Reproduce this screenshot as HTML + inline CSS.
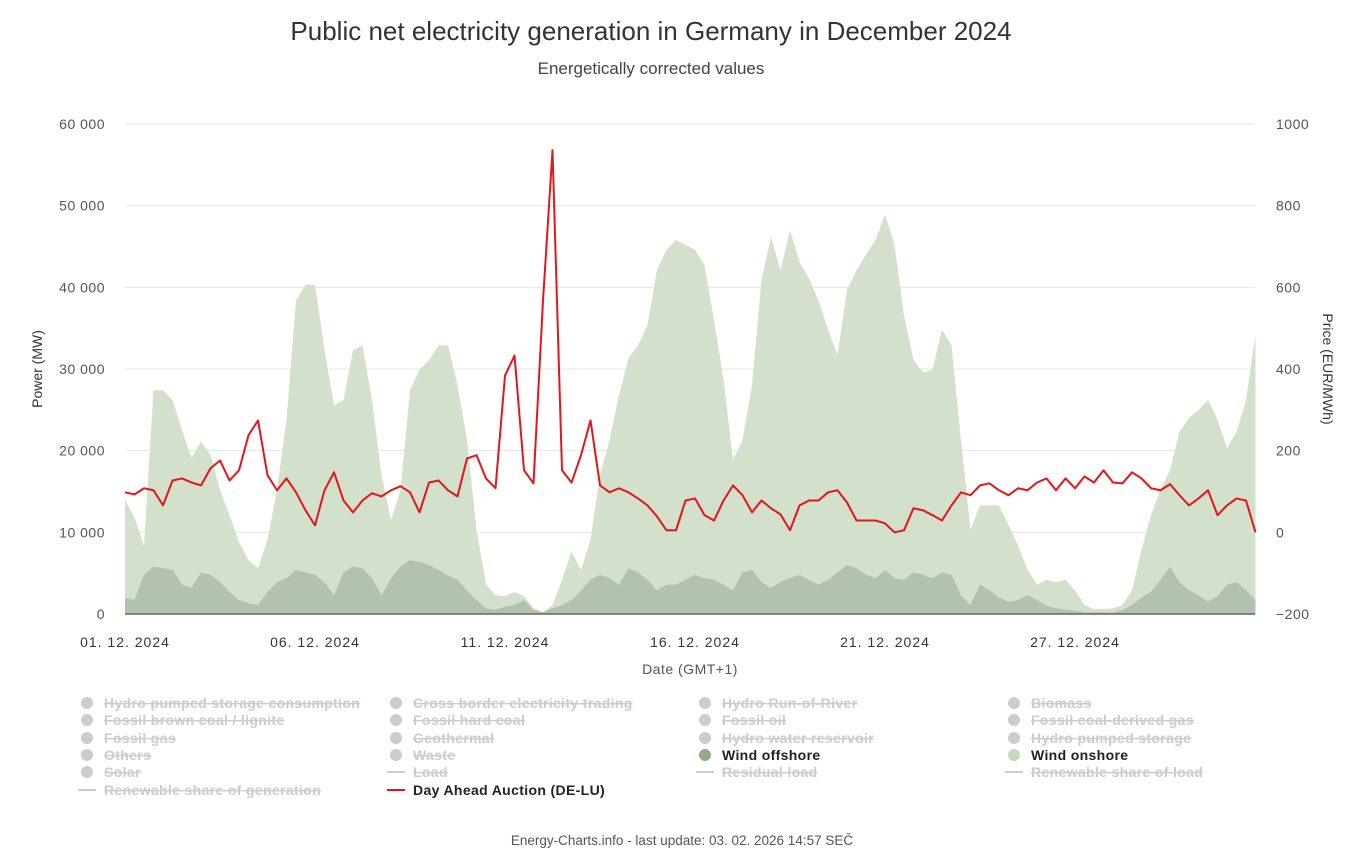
<!DOCTYPE html>
<html><head><meta charset="utf-8">
<style>
body{margin:0;background:#fff;font-family:"Liberation Sans",sans-serif;}
#wrap{position:relative;width:1355px;height:857px;overflow:hidden;}
svg text{font-family:"Liberation Sans",sans-serif;}
</style></head>
<body>
<div id="wrap">
<svg id="chart" width="1355" height="857"></svg>
</div>
<script>
// ---- data (6-hour steps from 01.12.2024 00:00) ----
const windOffshore = [2.0,1.7,4.8,5.8,5.6,5.4,3.6,3.2,5.1,4.8,3.9,2.7,1.7,1.3,1.1,2.7,3.9,4.4,5.4,5.1,4.8,3.9,2.3,5.1,5.8,5.6,4.4,2.3,4.4,5.8,6.6,6.4,6.0,5.4,4.7,4.2,2.9,1.7,0.7,0.5,0.9,1.1,1.7,0.5,0.2,0.7,1.1,1.7,2.9,4.2,4.8,4.4,3.6,5.6,5.1,4.2,2.9,3.6,3.6,4.2,4.8,4.4,4.2,3.6,2.9,5.1,5.4,3.9,3.2,3.9,4.4,4.8,4.2,3.6,4.2,5.1,6.0,5.6,4.8,4.4,5.4,4.4,4.2,5.1,4.8,4.4,5.1,4.8,2.3,1.1,3.6,2.9,2.0,1.5,1.7,2.3,1.7,1.0,0.7,0.5,0.4,0.2,0.2,0.2,0.2,0.5,1.1,2.0,2.7,4.2,5.8,3.9,2.9,2.3,1.5,2.2,3.6,3.9,2.9,1.7];
const windOnshore = [12.0,10.1,3.6,21.6,21.8,20.8,18.9,15.9,16.0,14.7,11.3,9.4,7.1,5.3,4.5,6.4,11.3,19.4,33.0,35.2,35.5,28.4,23.3,21.1,26.5,27.3,21.8,14.7,7.1,9.4,20.8,23.5,25.1,27.5,28.2,23.8,18.4,8.6,2.9,1.8,1.3,1.6,0.5,0.2,0.0,0.4,3.1,5.9,2.5,4.9,12.2,16.9,23.2,25.7,27.8,31.2,39.2,41.0,42.2,41.0,39.8,38.3,31.8,25.1,16.0,16.2,22.6,37.0,43.0,38.2,42.6,38.3,36.9,34.8,30.6,26.6,33.7,36.5,39.2,41.4,43.5,40.8,32.4,26.0,24.8,25.5,29.7,28.1,19.0,9.2,9.7,10.4,11.3,9.4,6.7,3.1,1.9,3.2,3.2,3.7,2.5,0.9,0.4,0.4,0.5,0.6,1.8,5.8,9.4,11.0,11.8,18.4,21.1,22.7,24.7,21.6,16.7,18.4,23.3,32.5];
const dayAheadPrice = [98,93,108,103,66,127,132,122,115,157,176,127,152,238,274,140,103,132,98,54,17,103,147,78,49,78,96,88,103,113,98,49,122,127,103,88,181,189,132,108,384,433,152,120,568,936,152,122,189,274,115,98,108,98,83,66,39,5,5,78,83,42,29,78,115,91,49,78,59,44,5,66,78,78,98,103,73,29,29,29,22,0,5,59,54,42,29,66,98,91,115,120,103,91,108,103,122,132,103,132,108,137,122,152,122,120,147,132,108,103,118,91,66,83,103,42,66,83,78,0];
const xTickLabels = ["01. 12. 2024","06. 12. 2024","11. 12. 2024","16. 12. 2024","21. 12. 2024","27. 12. 2024"];
const xTickDays = [0,5,10,15,20,25];
const yLeftTicks = [0,10000,20000,30000,40000,50000,60000];
const yRightTicks = [-200,0,200,400,600,800,1000];

const NS="http://www.w3.org/2000/svg";
const svg=document.getElementById('chart');
const PL=125,PR=1255,PT=124,PB=614;
const pxPerDay=38;
function xDay(d){return PL+d*pxPerDay;}
function xIdx(i){return xDay(i*0.25);}
function yMW(v){return PB-(v/60000)*(PB-PT);}
function yEUR(v){return PB-((v+200)/1200)*(PB-PT);}
function mk(tag,attrs,parent){const e=document.createElementNS(NS,tag);for(const k in attrs)e.setAttribute(k,attrs[k]);(parent||svg).appendChild(e);return e;}
function txt(s,attrs){const t=mk('text',attrs);t.textContent=s;return t;}

let t=txt('Public net electricity generation in Germany in December 2024',{x:651,y:40,'text-anchor':'middle','font-size':'26',fill:'#333'});


t=txt('Energetically corrected values',{x:651,y:74,'text-anchor':'middle','font-size':'17',fill:'#444'});



yLeftTicks.forEach(v=>{
  const y=yMW(v);
  if(v>0){const g=mk('line',{x1:PL,x2:PR,y1:y,y2:y,stroke:'#e6e6e6','stroke-width':1});
  
  }
  const l=txt(v===0?'0':(v/1000)+' 000',{x:105,y:y+5,'text-anchor':'end','font-size':'14','letter-spacing':'0.5',fill:'#555'});
  
  
});
yRightTicks.forEach(v=>{
  const l=txt(v<0?'\u2212'+(-v):String(v),{x:1276,y:yEUR(v)+5,'text-anchor':'start','font-size':'14','letter-spacing':'0.5',fill:'#555'});
  
  
});

const n=windOffshore.length;
let dOn='M'+xIdx(0)+','+PB, dOff='M'+xIdx(0)+','+PB;
for(let i=0;i<n;i++){
  dOff+=' L'+xIdx(i)+','+yMW(windOffshore[i]*1000);
  dOn+=' L'+xIdx(i)+','+yMW((windOffshore[i]+windOnshore[i])*1000);
}
dOff+=' L'+xIdx(n-1)+','+PB+' Z';dOn+=' L'+xIdx(n-1)+','+PB+' Z';
let a=mk('path',{d:dOn,fill:'#d3e0cc'});


a=mk('path',{d:dOff,fill:'#b3c2ad'});



let dP='';
dayAheadPrice.forEach((v,i)=>{dP+=(i?' L':'M')+xIdx(i)+','+yEUR(v);});
let pl=mk('path',{d:dP,fill:'none',stroke:'#e3161b','stroke-width':2,'stroke-linejoin':'round'});



let ax=mk('line',{x1:PL,x2:PR,y1:PB,y2:PB,stroke:'#666','stroke-width':1.5});


xTickLabels.forEach((s,i)=>{
  const l=txt(s,{x:xDay(xTickDays[i]),y:647,'text-anchor':'middle','font-size':'14','letter-spacing':'1',fill:'#333'});
  
  
});
t=txt('Date (GMT+1)',{x:690,y:674,'text-anchor':'middle','font-size':'14','letter-spacing':'0.5',fill:'#555'});


t=txt('Power (MW)',{x:0,y:0,'text-anchor':'middle','font-size':'14',fill:'#333',transform:'translate(42,369) rotate(-90)'});


t=txt('Price (EUR/MWh)',{x:0,y:0,'text-anchor':'middle','font-size':'14',fill:'#333',transform:'translate(1323,369) rotate(90)'});



const legendItems=[
 ['Hydro pumped storage consumption',0,0,'dot',0],['Cross border electricity trading',1,0,'dot',0],['Hydro Run-of-River',2,0,'dot',0],['Biomass',3,0,'dot',0],
 ['Fossil brown coal / lignite',0,1,'dot',0],['Fossil hard coal',1,1,'dot',0],['Fossil oil',2,1,'dot',0],['Fossil coal-derived gas',3,1,'dot',0],
 ['Fossil gas',0,2,'dot',0],['Geothermal',1,2,'dot',0],['Hydro water reservoir',2,2,'dot',0],['Hydro pumped storage',3,2,'dot',0],
 ['Others',0,3,'dot',0],['Waste',1,3,'dot',0],['Wind offshore',2,3,'dot','#94a98a'],['Wind onshore',3,3,'dot','#c5d8b9'],
 ['Solar',0,4,'dot',0],['Load',1,4,'line',0],['Residual load',2,4,'line',0],['Renewable share of load',3,4,'line',0],
 ['Renewable share of generation',0,5,'line',0],['Day Ahead Auction (DE-LU)',1,5,'line','#e3161b']
];
const colX=[87,396,705,1014], rowY=[703,720,738,755,772,790];
legendItems.forEach(it=>{
  const [label,c,r,kind,col]=it;
  const g=mk('g',{});
  
  
  const cx=colX[c],cy=rowY[r];
  const color=col||'#ccc';
  if(kind==='dot') mk('circle',{cx:cx,cy:cy,r:6,fill:color},g);
  else mk('line',{x1:cx-9,x2:cx+9,y1:cy,y2:cy,stroke:color,'stroke-width':2},g);
  const tt=mk('text',{x:cx+17,y:cy+5,'font-size':'14','letter-spacing':'0.35','font-weight':'bold',fill:col?'#222':'#ccc','text-decoration':col?'none':'line-through'},g);
  tt.textContent=label;
});

t=txt('Energy-Charts.info - last update: 03. 02. 2026 14:57 SEČ',{x:682,y:845,'text-anchor':'middle','font-size':'13.5',fill:'#555'});


</script>
</body></html>
